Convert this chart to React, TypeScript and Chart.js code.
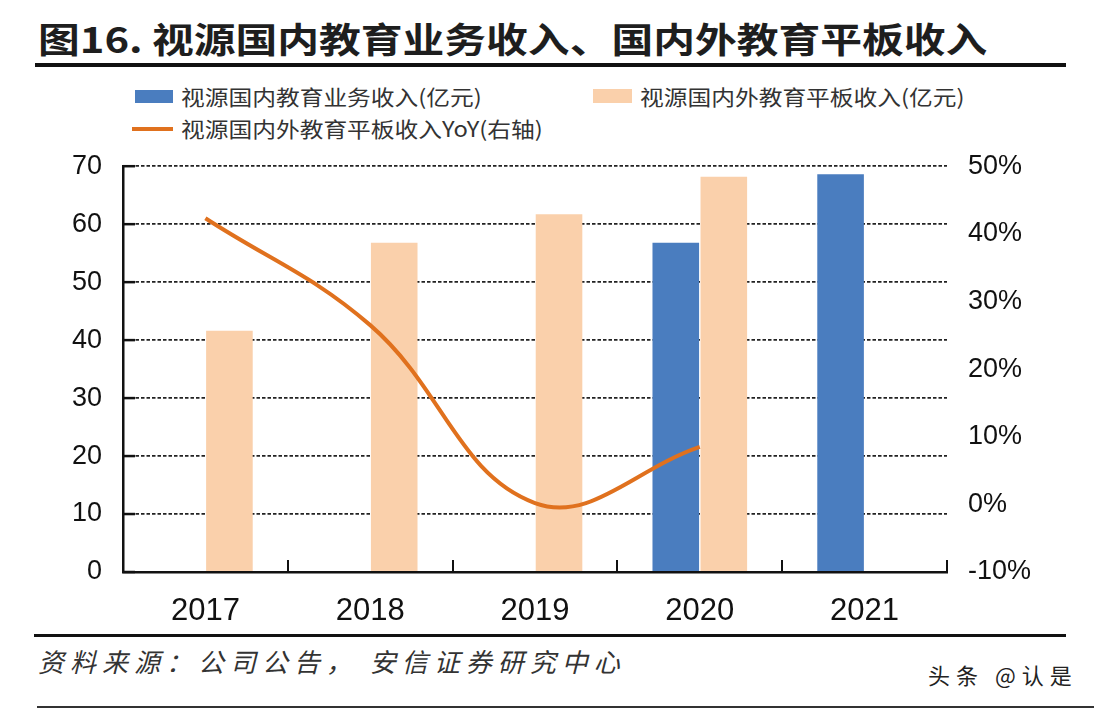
import React, { useEffect, useRef } from 'react';
import { Chart, registerables } from 'chart.js';

Chart.register(...registerables);

// ---- Data ----
const categories = ['2017', '2018', '2019', '2020', '2021'];
const domesticEduRevenue: (number | null)[] = [null, null, null, 56.8, 68.6];
const tabletRevenue: (number | null)[] = [41.6, 56.8, 61.7, 68.2, null];
const tabletYoY: (number | null)[] = [42.3, 26.5, 0.2, 8.5, null];

const leftAxisMin = 0;
const leftAxisMax = 70;
const rightAxisMin = -10;
const rightAxisMax = 50;
const axisStep = 10;

const titleText = '图16. 视源国内教育业务收入、国内外教育平板收入';
const legendLabels = [
  '视源国内教育业务收入(亿元)',
  '视源国内外教育平板收入(亿元)',
  '视源国内外教育平板收入YoY(右轴)',
];
const sourceText = '资料来源：公司公告， 安信证券研究中心';
const watermarkText = '头条 @认是';

const BLUE = '#4A7DBF';
const PEACH = '#FAD0AB';
const ORANGE = '#E0711E';

const numFont = "'Liberation Sans', Arial, sans-serif";
const cjkFont = "'Noto Sans CJK SC', 'Noto Sans', sans-serif";

const innerTicks = {
  id: 'innerTicks',
  beforeDatasetsDraw(chart: any) {
    const { ctx, chartArea, scales } = chart;
    const x = scales.x;
    const y = scales.y;
    ctx.save();
    ctx.strokeStyle = '#111';
    ctx.lineWidth = 2;
    for (let i = 0; i <= categories.length; i++) {
      const px = Math.round(x.getPixelForValue(i - 0.5));
      ctx.beginPath();
      ctx.moveTo(px, chartArea.bottom);
      ctx.lineTo(px, chartArea.bottom - 12);
      ctx.stroke();
    }
    ctx.lineWidth = 2.5;
    y.ticks.forEach((t: any) => {
      const py = y.getPixelForValue(t.value);
      ctx.beginPath();
      ctx.moveTo(chartArea.left, py);
      ctx.lineTo(chartArea.left + 12, py);
      ctx.stroke();
    });
    ctx.restore();
  },
};

export default function App() {
  const ref = useRef<HTMLCanvasElement>(null);

  useEffect(() => {
    const chart = new Chart(ref.current as HTMLCanvasElement, {
      type: 'bar',
      data: {
        labels: categories,
        datasets: [
          {
            type: 'line',
            label: legendLabels[2],
            data: tabletYoY as any,
            yAxisID: 'y1',
            borderColor: ORANGE,
            borderWidth: 4,
            tension: 0.4,
            pointRadius: 0,
            fill: false,
            order: 0,
          } as any,
          {
            label: legendLabels[0],
            data: domesticEduRevenue as any,
            backgroundColor: BLUE,
            yAxisID: 'y',
            categoryPercentage: 0.583,
            barPercentage: 0.97,
            order: 1,
          },
          {
            label: legendLabels[1],
            data: tabletRevenue as any,
            backgroundColor: PEACH,
            yAxisID: 'y',
            categoryPercentage: 0.583,
            barPercentage: 0.97,
            order: 2,
          },
        ],
      },
      options: {
        responsive: false,
        animation: false,
        devicePixelRatio: 1,
        layout: { padding: { top: 15, left: 0, right: 0, bottom: 0 } },
        plugins: {
          legend: { display: false },
          tooltip: { enabled: false },
          title: { display: false },
        },
        scales: {
          x: {
            offset: true,
            grid: { display: false, drawTicks: false },
            border: { display: true, color: '#111', width: 2.5 },
            ticks: {
              color: '#111',
              font: { family: numFont, size: 31 },
              padding: 21,
              maxRotation: 0,
              autoSkip: false,
            },
            afterFit: (s: any) => {
              s.height = 68;
            },
          },
          y: {
            position: 'left',
            min: leftAxisMin,
            max: leftAxisMax,
            ticks: {
              stepSize: axisStep,
              color: '#111',
              font: { family: numFont, size: 27 },
              padding: 21,
            },
            grid: { color: '#222', lineWidth: 1.8, drawTicks: false },
            border: { display: true, color: '#111', width: 2.5, dash: [3.5, 2] },
            afterFit: (s: any) => {
              s.width = 123;
            },
          },
          y1: {
            position: 'right',
            min: rightAxisMin,
            max: rightAxisMax,
            ticks: {
              stepSize: axisStep,
              color: '#111',
              font: { family: numFont, size: 27 },
              padding: 21,
              callback: (v: any) => `${v}%`,
            },
            grid: { display: false, drawTicks: false },
            border: { display: false },
            afterFit: (s: any) => {
              s.width = 147;
            },
          },
        },
      },
      plugins: [innerTicks],
    });
    return () => chart.destroy();
  }, []);

  const legendText: React.CSSProperties = {
    position: 'absolute',
    fontFamily: cjkFont,
    fontSize: 21,
    lineHeight: '21px',
    color: '#333',
    whiteSpace: 'nowrap',
    transform: 'scaleX(1.13)',
    transformOrigin: 'left center',
  };

  return (
    <div
      style={{
        position: 'absolute',
        left: 0,
        top: 0,
        width: 1094,
        height: 712,
        background: '#fff',
        overflow: 'hidden',
      }}
    >
      <div
        style={{
          position: 'absolute',
          left: 38,
          top: 20,
          fontFamily: cjkFont,
          fontWeight: 700,
          fontSize: 35,
          lineHeight: '35px',
          color: '#1e1e1e',
          whiteSpace: 'nowrap',
          transform: 'scaleX(1.193)',
          transformOrigin: 'left center',
        }}
      >
        {titleText}
      </div>
      <div style={{ position: 'absolute', left: 35, top: 63, width: 1031, height: 4, background: '#111' }} />

      <div style={{ position: 'absolute', left: 135, top: 90, width: 38, height: 13, background: BLUE }} />
      <div style={{ ...legendText, left: 181, top: 86 }}>{legendLabels[0]}</div>
      <div style={{ position: 'absolute', left: 593, top: 89, width: 39, height: 14, background: PEACH }} />
      <div style={{ ...legendText, left: 640, top: 86 }}>{legendLabels[1]}</div>
      <div style={{ position: 'absolute', left: 132, top: 127, width: 41, height: 4, background: ORANGE }} />
      <div style={{ ...legendText, left: 181, top: 118 }}>{legendLabels[2]}</div>

      <canvas
        ref={ref}
        width={1094}
        height={511}
        style={{ position: 'absolute', left: 0, top: 129, width: 1094, height: 511 }}
      />

      <div style={{ position: 'absolute', left: 34, top: 634, width: 1032, height: 3, background: '#111' }} />
      <div
        style={{
          position: 'absolute',
          left: 38,
          top: 648,
          fontFamily: cjkFont,
          fontStyle: 'italic',
          fontSize: 26,
          lineHeight: '26px',
          letterSpacing: 6,
          color: '#333',
          whiteSpace: 'nowrap',
        }}
      >
        {sourceText}
      </div>
      <div
        style={{
          position: 'absolute',
          left: 928,
          top: 663,
          fontFamily: cjkFont,
          fontSize: 22,
          lineHeight: '22px',
          letterSpacing: 6,
          color: '#222',
          whiteSpace: 'nowrap',
        }}
      >
        {watermarkText}
      </div>
      <div style={{ position: 'absolute', left: 37, top: 706, width: 1057, height: 2, background: '#333' }} />
    </div>
  );
}
